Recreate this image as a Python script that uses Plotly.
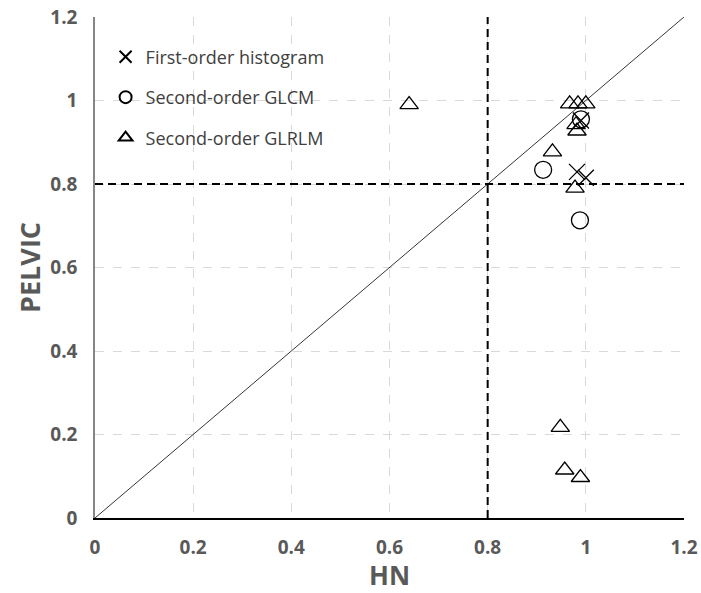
import plotly.graph_objects as go

# First-order histogram (x markers)
hist_hn = [0.99, 0.982, 1.0]
hist_pelvic = [0.952, 0.829, 0.815]

# Second-order GLCM (circles)
glcm_hn = [0.99, 0.913, 0.988]
glcm_pelvic = [0.955, 0.834, 0.713]

# Second-order GLRLM (triangles)
glrlm_hn = [0.64, 0.967, 0.984, 1.0, 0.98, 0.982, 0.932, 0.978, 0.948, 0.957, 0.989]
glrlm_pelvic = [0.99, 0.992, 0.992, 0.992, 0.942, 0.927, 0.877, 0.79, 0.217, 0.115, 0.097]

threshold = 0.8
axis_range = [0, 1.2]
tick_vals = [0, 0.2, 0.4, 0.6, 0.8, 1.0, 1.2]
tick_text = ["0", "0.2", "0.4", "0.6", "0.8", "1", "1.2"]

FONT = "Open Sans"

fig = go.Figure()

# diagonal identity line
fig.add_trace(go.Scatter(x=axis_range, y=axis_range, mode="lines",
                         line=dict(color="black", width=0.8),
                         showlegend=False, hoverinfo="skip"))
# threshold lines
fig.add_trace(go.Scatter(x=[threshold, threshold], y=axis_range, mode="lines",
                         line=dict(color="black", width=2, dash="8px,5px"),
                         showlegend=False, hoverinfo="skip"))
fig.add_trace(go.Scatter(x=axis_range, y=[threshold, threshold], mode="lines",
                         line=dict(color="black", width=2, dash="8px,5px"),
                         showlegend=False, hoverinfo="skip"))

fig.add_trace(go.Scatter(x=hist_hn, y=hist_pelvic, mode="markers",
                         name="First-order histogram", legendgroup="a",
                         marker=dict(symbol="x-thin-open", size=16, color="black",
                                     line=dict(color="black", width=1.3))))
fig.add_trace(go.Scatter(x=glcm_hn, y=glcm_pelvic, mode="markers",
                         name="Second-order GLCM", legendgroup="b",
                         marker=dict(symbol="circle-open", size=17, color="black",
                                     line=dict(color="black", width=1.3))))
fig.add_trace(go.Scatter(x=glrlm_hn, y=glrlm_pelvic, mode="markers",
                         name="Second-order GLRLM", legendgroup="c",
                         marker=dict(symbol="triangle-up-open", size=16, color="black",
                                     line=dict(color="black", width=1.3))))

fig.update_layout(
    width=701, height=593,
    margin=dict(l=95, r=17, t=17, b=75),
    paper_bgcolor="white", plot_bgcolor="white",
    font=dict(family=FONT, color="#595959"),
    showlegend=True,
    legend=dict(x=0.018, y=0.957, xanchor="left", yanchor="top",
                bgcolor="rgba(0,0,0,0)", font=dict(size=18, color="#404040", family=FONT),
                tracegroupgap=14, traceorder="grouped", itemsizing="constant",
                itemwidth=30),
    xaxis=dict(range=axis_range, tickvals=tick_vals, ticktext=tick_text,
               showgrid=True, gridcolor="#d9d9d9", griddash="dash", gridwidth=1,
               zeroline=False, showline=True, linecolor="black", linewidth=1.5,
               ticks="", ticklabelstandoff=11, automargin=False,
               tickfont=dict(size=19, color="#595959", family=FONT, weight="bold"),
               title=dict(text="HN", standoff=8,
                          font=dict(size=26, color="#595959", family=FONT, weight="bold"))),
    yaxis=dict(range=axis_range, tickvals=tick_vals, ticktext=tick_text,
               showgrid=True, gridcolor="#d9d9d9", griddash="dash", gridwidth=1,
               zeroline=False, showline=True, linecolor="#868686", linewidth=1.5,
               ticks="", ticklabelstandoff=12, automargin=False,
               tickfont=dict(size=19, color="#595959", family=FONT, weight="bold"),
               title=dict(text="PELVIC", standoff=2,
                          font=dict(size=27, color="#595959", family=FONT, weight="bold"))),
)

fig.write_html("out.html")
